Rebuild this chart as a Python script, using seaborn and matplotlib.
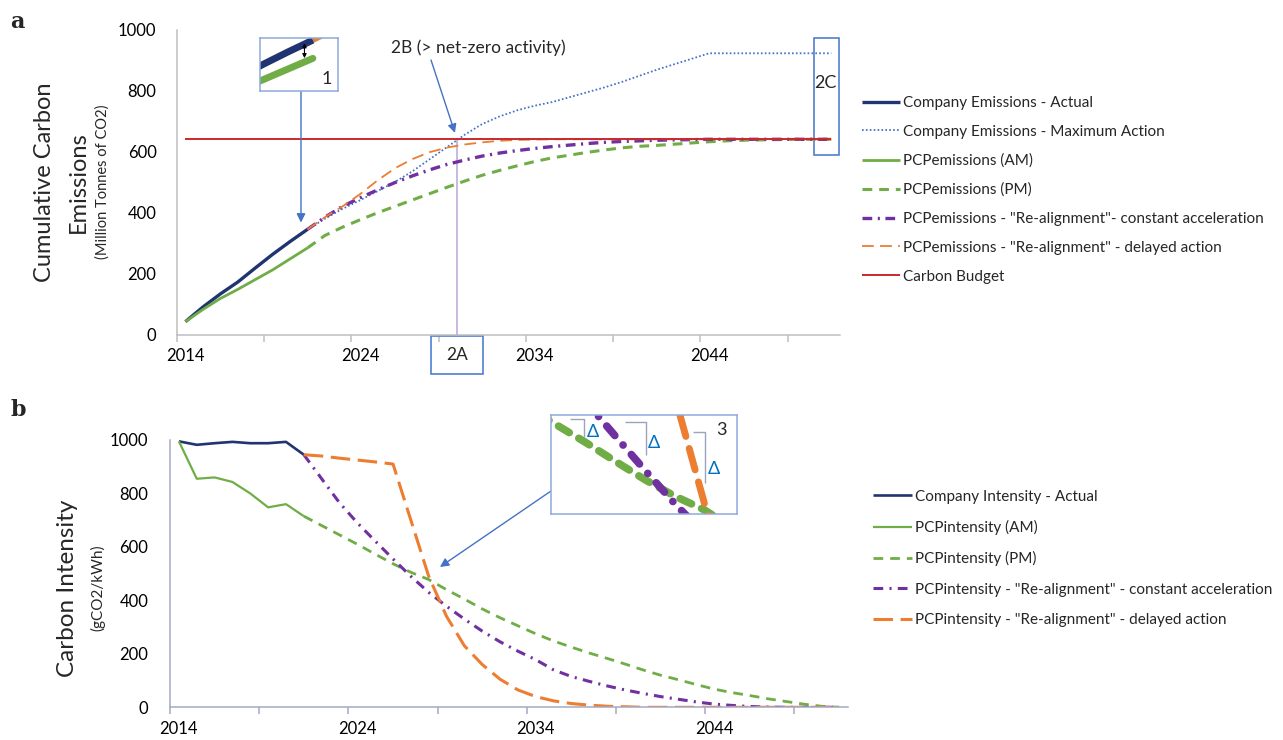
import matplotlib
matplotlib.use("Agg")
import matplotlib.pyplot as plt
import matplotlib.transforms as mtransforms
from matplotlib.patches import Rectangle
import seaborn as sns

# ---- data ----
years = list(range(2014, 2052))
hist_years = years[:8]          # 2014-2021
proj_years = years[7:]          # 2021-2051

emis_actual = [42, 90, 133, 172, 218, 263, 305, 345]
emis_am = [42, 82, 118, 148, 180, 212, 248, 284]
emis_pm = [284, 325, 352, 376, 399, 420, 441, 462, 483, 503, 522, 538, 553, 567, 579, 588,
           597, 605, 612, 617, 620, 624, 628, 632, 635, 637, 638, 639, 640, 640, 640]
emis_max = [345, 380, 412, 440, 470, 500, 535, 575, 615, 655, 690, 715, 735, 750, 762, 778,
            794, 810, 828, 848, 868, 886, 904, 922, 922, 922, 922, 922, 922, 922, 922]
emis_const = [345, 385, 420, 448, 474, 498, 520, 540, 558, 572, 585, 595, 603, 610, 616, 621,
              626, 630, 633, 635, 637, 638, 639, 640, 640, 640, 640, 640, 640, 640, 640]
emis_delay = [345, 385, 420, 460, 505, 545, 575, 598, 613, 623, 630, 635, 638, 639, 640, 640,
              640, 640, 640, 640, 640, 640, 640, 640, 640, 640, 640, 640, 640, 640, 640]
budget = [640] * len(years)
netzero_year = 2029.55

int_actual = [995, 982, 988, 993, 988, 988, 993, 945]
int_am = [995, 855, 860, 843, 800, 748, 760, 715]
int_pm = [715, 680, 645, 610, 573, 537, 505, 478, 440, 405, 368, 335, 305, 275, 248, 225,
          203, 183, 162, 140, 120, 103, 85, 68, 55, 44, 32, 22, 12, 4, 0]
int_const = [945, 855, 765, 690, 622, 555, 490, 430, 378, 330, 285, 245, 210, 178, 140, 115,
             97, 80, 65, 52, 40, 30, 20, 12, 7, 3, 1, 0, 0, 0, 0]
int_delay = [945, 940, 932, 925, 918, 910, 700, 490, 340, 230, 160, 105, 65, 40, 24, 14,
             8, 4, 2, 0, 0, 0, 0, 0, 0, 0, 0, 0, 0, 0, 0]

label_years = [2014, 2024, 2034, 2044]
tick_years = [2013.5, 2018.5, 2023.5, 2028.5, 2033.5, 2038.5, 2043.5, 2048.5]
yticks = [0, 200, 400, 600, 800, 1000]

NAVY = "#1f3470"
BLUE = "#4472c4"
GREEN = "#70ad47"
PURPLE = "#7030a0"
ORANGE = "#ed7d31"
RED = "#c9282d"
BOXBLUE = "#4f7fd0"

sns.set_theme(style="white")
plt.rcParams["font.family"] = ["Lato", "DejaVu Sans"]
plt.rcParams["lines.scale_dashes"] = False
plt.rcParams["lines.solid_capstyle"] = "butt"

W, H = 1283, 740
fig = plt.figure(figsize=(W / 100, H / 100), dpi=100)


def fx(px):
    return px / W


def fy(py):
    return 1 - py / H


ax1 = fig.add_axes([fx(176.7), fy(334.5), 663.3 / W, 305 / H])
ax2 = fig.add_axes([fx(170), fy(707.3), 678 / W, 267.3 / H])

# ---- panel a ----
sns.lineplot(x=hist_years, y=emis_actual, ax=ax1, color=NAVY, lw=2.4,
             label="Company Emissions - Actual")
sns.lineplot(x=proj_years, y=emis_max, ax=ax1, color=BLUE, lw=1.3, linestyle=(0, (1.2, 1.6)),
             label="Company Emissions - Maximum Action")
sns.lineplot(x=hist_years, y=emis_am, ax=ax1, color=GREEN, lw=2.0, label="PCPemissions (AM)")
sns.lineplot(x=proj_years, y=emis_pm, ax=ax1, color=GREEN, lw=2.2, linestyle=(0, (7, 5)),
             label="PCPemissions (PM)")
sns.lineplot(x=proj_years, y=emis_const, ax=ax1, color=PURPLE, lw=2.4,
             linestyle=(0, (7, 4, 1.5, 4)),
             label='PCPemissions - "Re-alignment"- constant acceleration')
sns.lineplot(x=proj_years, y=emis_delay, ax=ax1, color=ORANGE, lw=1.3, linestyle=(0, (8.5, 4.5)),
             label='PCPemissions - "Re-alignment" - delayed action')
sns.lineplot(x=years, y=budget, ax=ax1, color=RED, lw=1.4, label="Carbon Budget")
ax1.vlines(netzero_year, 0, budget[0], color="#b9a6d6", lw=1.1, zorder=1)

# ---- panel b ----
sns.lineplot(x=hist_years, y=int_actual, ax=ax2, color=NAVY, lw=1.9,
             label="Company Intensity - Actual")
sns.lineplot(x=hist_years, y=int_am, ax=ax2, color=GREEN, lw=1.6, label="PCPintensity (AM)")
sns.lineplot(x=proj_years, y=int_pm, ax=ax2, color=GREEN, lw=2.0, linestyle=(0, (7, 5)),
             label="PCPintensity (PM)")
sns.lineplot(x=proj_years, y=int_const, ax=ax2, color=PURPLE, lw=2.2,
             linestyle=(0, (7, 4.5, 1.5, 4.5)),
             label='PCPintensity - "Re-alignment" - constant acceleration')
sns.lineplot(x=proj_years, y=int_delay, ax=ax2, color=ORANGE, lw=2.2, linestyle=(0, (14, 5.5)),
             label='PCPintensity - "Re-alignment" - delayed action')

for ax, spine_col, ypad in [(ax1, "#bfbfbf", 14.5), (ax2, "#a3aac4", 15.5)]:
    ax.set_xlim(2013.5, 2051.5)
    ax.set_ylim(0, 1000)
    ax.set_xticks(label_years)
    ax.set_xticklabels([str(y) for y in label_years])
    ax.set_xticks(tick_years, minor=True)
    ax.set_yticks(yticks)
    ax.set_yticklabels([str(v) for v in yticks])
    ax.set_xlabel("")
    ax.set_ylabel("")
    for side in ["top", "right"]:
        ax.spines[side].set_visible(False)
    for side in ["left", "bottom"]:
        ax.spines[side].set_color(spine_col)
        ax.spines[side].set_linewidth(1.1)
    ax.tick_params(axis="x", which="major", length=0, pad=10, labelsize=12, labelcolor="black")
    ax.tick_params(axis="x", which="minor", length=5, width=1.1, color=spine_col,
                   direction="out", bottom=True)
    ax.tick_params(axis="y", length=0, pad=ypad, labelsize=12, labelcolor="black")
    ax.grid(False)
    ax.patch.set_alpha(0)

# legends
h1, l1 = ax1.get_legend_handles_labels()
ax1.legend(h1, l1, loc="upper left", bbox_to_anchor=(fx(862), fy(96)),
           bbox_transform=fig.transFigure, frameon=False, fontsize=11,
           handlelength=2.5, handletextpad=0.2, labelspacing=0.97, borderpad=0,
           borderaxespad=0)
h2, l2 = ax2.get_legend_handles_labels()
ax2.legend(h2, l2, loc="upper left", bbox_to_anchor=(fx(873), fy(489.5)),
           bbox_transform=fig.transFigure, frameon=False, fontsize=11,
           handlelength=2.55, handletextpad=0.2, labelspacing=1.07, borderpad=0,
           borderaxespad=0)

# axis titles and panel letters
fig.text(fx(17), fy(22), "a", family="DejaVu Serif", fontweight="bold", fontsize=16,
         ha="center", va="center")
fig.text(fx(18), fy(410), "b", family="DejaVu Serif", fontweight="bold", fontsize=16,
         ha="center", va="center")
fig.text(fx(45), fy(182), "Cumulative Carbon", rotation=90, fontsize=17, ha="center",
         va="center")
fig.text(fx(78), fy(182), "Emissions", rotation=90, fontsize=17, ha="center", va="center")
fig.text(fx(103), fy(182), "(Million Tonnes of CO2)", rotation=90, fontsize=10.5,
         ha="center", va="center")
fig.text(fx(68), fy(588), "Carbon Intensity", rotation=90, fontsize=17.5, ha="center",
         va="center")
fig.text(fx(98), fy(588), "(gCO2/kWh)", rotation=90, fontsize=11, ha="center", va="center")

arrow_kw = dict(arrowstyle="-|>", color=BLUE, lw=1.0, mutation_scale=13, shrinkA=0, shrinkB=0)

# 2A / 2B / 2C call-outs
blend = mtransforms.blended_transform_factory(ax1.transData, ax1.transAxes)
ax1.add_patch(Rectangle((2028.06, -0.128), 2.98, 0.123, transform=blend, fill=False,
                        edgecolor=BOXBLUE, lw=1.2, clip_on=False))
ax1.text(netzero_year, -0.066, "2A", transform=blend, ha="center", va="center", fontsize=12.5)
ax1.add_patch(Rectangle((2050.0, 588), 1.43, 384, fill=False, edgecolor=BOXBLUE, lw=1.2,
                        clip_on=False))
ax1.text(2050.69, 825, "2C", ha="center", va="center", fontsize=13)
fig.text(fx(478), fy(48), "2B (> net-zero activity)", ha="center", va="center", fontsize=12.5)
ax1.annotate("", xy=(2029.44, 661), xycoords="data", xytext=(fx(431), fy(60)),
             textcoords="figure fraction", arrowprops=arrow_kw)
ax1.annotate("", xy=(2020.62, 367), xycoords="data", xytext=(fx(301), fy(91)),
             textcoords="figure fraction", arrowprops=arrow_kw)
ax2.annotate("", xy=(2028.63, 525), xycoords="data", xytext=(fx(551), fy(491)),
             textcoords="figure fraction", arrowprops=arrow_kw)

# inset 1: zoom on actual vs AM emissions
in1 = fig.add_axes([fx(260), fy(91), 78 / W, 53 / H])
sns.lineplot(x=proj_years[:2], y=emis_delay[:2], ax=in1, color=ORANGE, lw=4)
sns.lineplot(x=hist_years, y=emis_actual, ax=in1, color=NAVY, lw=5)
sns.lineplot(x=hist_years, y=emis_am, ax=in1, color=GREEN, lw=5,
             solid_capstyle="round")
in1.set_xlim(2018.9, 2022.0)
in1.set_ylim(175, 352)
in1.annotate("", xy=(0.57, 0.9), xytext=(0.57, 0.62), xycoords="axes fraction",
             arrowprops=dict(arrowstyle="<|-|>", color="black", lw=0.8, mutation_scale=6,
                             shrinkA=0, shrinkB=0))
in1.text(0.86, 0.22, "1", transform=in1.transAxes, ha="center", va="center", fontsize=13)

# inset 3: zoom on the intensity crossings
in3 = fig.add_axes([fx(551), fy(514), 186 / W, 99 / H])
sns.lineplot(x=proj_years, y=int_pm, ax=in3, color=GREEN, lw=5.5, linestyle=(0, (9, 8)),
             dash_capstyle="round")
sns.lineplot(x=proj_years, y=int_const, ax=in3, color=PURPLE, lw=5.5,
             linestyle=(0, (9, 9, 0.1, 9)), dash_capstyle="round")
sns.lineplot(x=proj_years, y=int_delay, ax=in3, color=ORANGE, lw=5, linestyle=(0, (16, 9)),
             dash_capstyle="round")
in3.set_xlim(2022.8, 2029.1)
in3.set_ylim(470, 665)
for (x0, x1, y0, y1), (tx, ty) in [((0.102, 0.179, 0.956, 0.774), (0.226, 0.83)),
                                   ((0.398, 0.511, 0.926, 0.596), (0.554, 0.72)),
                                   ((0.762, 0.828, 0.831, 0.31), (0.873, 0.455))]:
    in3.plot([x0, x1, x1], [y0, y0, y1], transform=in3.transAxes, color="#9aa5bd", lw=1)
    in3.text(tx, ty, "\u0394", transform=in3.transAxes, color="#0070c0", fontsize=13,
             ha="center", va="center")
in3.text(0.918, 0.85, "3", transform=in3.transAxes, ha="center", va="center", fontsize=13)

for ax in (in1, in3):
    ax.set_xticks([])
    ax.set_yticks([])
    ax.set_xlabel("")
    ax.set_ylabel("")
    for sp in ax.spines.values():
        sp.set_visible(True)
        sp.set_color("#8eaadb")
        sp.set_linewidth(1.1)
    if ax.get_legend() is not None:
        ax.get_legend().remove()

fig.savefig("out.png", dpi=100)
